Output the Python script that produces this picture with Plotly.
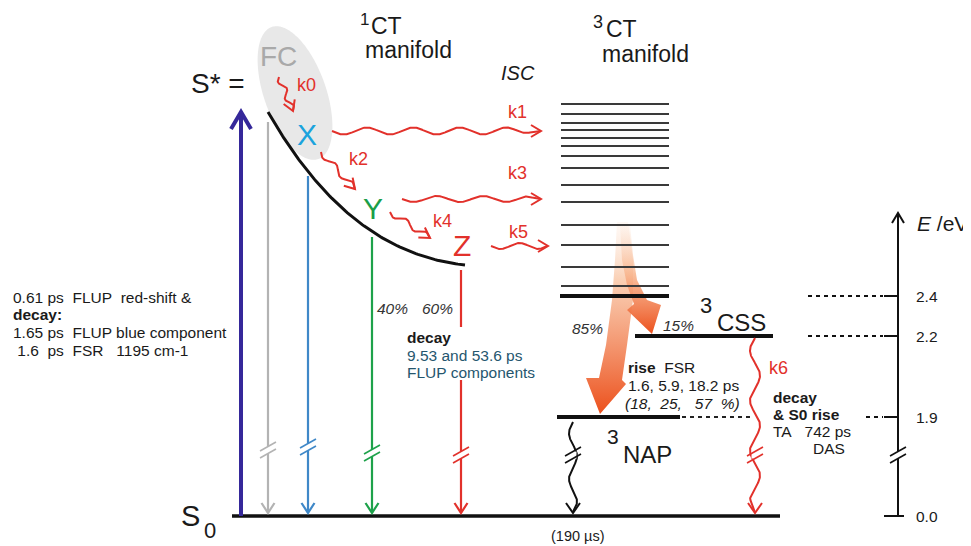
import numpy as np
import plotly.graph_objects as go

# ---------------- data ----------------
energy_ticks = [2.4, 2.2, 1.9, 0.0]            # eV, schematic energy axis
energy_labels = ["2.4", "2.2", "1.9", "0.0"]
energy_px = [296, 336, 417, 516]               # schematic (broken) axis positions
manifold_levels = [104, 114, 123, 130, 138, 146, 156, 168, 185, 202, 225, 245, 267, 286]
state_names = ["X", "Y", "Z"]
state_colors = ["#1ba3dd", "#1a9e48", "#e2312b"]
rate_labels = ["k0", "k1", "k2", "k3", "k4", "k5", "k6"]
branching = {"40%": 0.40, "60%": 0.60, "85%": 0.85, "15%": 0.15}
left_text = ["0.61 ps\u00a0\u00a0FLUP\u00a0\u00a0red-shift &amp;",
             "<b>decay:</b>",
             "1.65 ps\u00a0\u00a0FLUP blue component",
             "\u00a01.6\u00a0\u00a0ps\u00a0\u00a0FSR\u00a0\u00a0\u00a01195 cm-1"]

FONT = "Arial, Liberation Sans, sans-serif"
W, H = 971, 546
PAGE_MARGIN = 8   # default body margin of the html page
fig = go.Figure()


def E(e):
    return float(np.interp(e, sorted(energy_ticks), sorted(energy_px, reverse=True)))


def seg(xs, ys, color, width, dash=None):
    fig.add_trace(go.Scatter(x=list(xs), y=list(ys), mode="lines",
                             line=dict(color=color, width=width, dash=dash),
                             hoverinfo="skip", showlegend=False))


def txt(x, y, s, size, color="#1a1a1a", xa="left", ya="middle"):
    fig.add_annotation(x=x, y=y, text=s, showarrow=False, xanchor=xa, yanchor=ya,
                       font=dict(size=size, color=color, family=FONT),
                       xref="x", yref="y", borderpad=0)


def vee(tx, ty, dx, dy, length, half, color, width):
    n = np.hypot(dx, dy)
    ux, uy = dx / n, dy / n
    px, py = -uy, ux
    bx, by = tx - ux * length, ty - uy * length
    seg([bx + px * half, tx, bx - px * half], [by + py * half, ty, by - py * half], color, width)


def wavy(x0, y0, x1, y1, amp, waves, color, width, hl=10, hw=6, straight=0.12):
    t = np.linspace(0, 1, 300)
    dx, dy = x1 - x0, y1 - y0
    L = np.hypot(dx, dy)
    ux, uy = dx / L, dy / L
    px, py = -uy, ux
    env = np.clip((1 - t) / straight, 0, 1)
    off = amp * np.sin(2 * np.pi * waves * t) * env
    xs = x0 + dx * t + px * off
    ys = y0 + dy * t + py * off
    seg(xs, ys, color, width)
    vee(x1, y1, dx, dy, hl, hw, color, width)


def brk(x, y, color, lw, gap=3.5, half=8, slope=4.5):
    seg([x, x], [y - gap, y + gap], "white", lw + 5)
    for d in (-gap, gap):
        seg([x - half, x + half], [y + d + slope, y + d - slope], color, 1.6)


def bezier(p0, p1, p2, p3, n=120):
    t = np.linspace(0, 1, n)[:, None]
    P = [np.array(p, float) for p in (p0, p1, p2, p3)]
    c = (1 - t) ** 3 * P[0] + 3 * (1 - t) ** 2 * t * P[1] + 3 * (1 - t) * t ** 2 * P[2] + t ** 3 * P[3]
    return c[:, 0], c[:, 1]


# ---------------- FC ellipse ----------------
th = np.linspace(0, 2 * np.pi, 200)
cx, cy, a, b = 295, 93, 70, 31
ang = np.arctan2(0.943, 0.333)
ex = cx + a * np.cos(th) * np.cos(ang) - b * np.sin(th) * np.sin(ang)
ey = cy + a * np.cos(th) * np.sin(ang) + b * np.sin(th) * np.cos(ang)
fig.add_trace(go.Scatter(x=ex, y=ey, fill="toself", fillcolor="#e8e8e8", mode="none",
                         hoverinfo="skip", showlegend=False))

# ---------------- gradient arrows (ISC to triplets) ----------------
big_x = [617, 615, 612, 606, 599, 586, 600, 626, 622, 627, 633, 633, 628]
big_y = [222, 260, 300, 345, 378, 378, 414, 384, 380, 345, 300, 260, 222]
fig.add_trace(go.Scatter(x=big_x, y=big_y, fill="toself", mode="none",
                         fillgradient=dict(type="vertical", start=222, stop=414,
                                           colorscale=[[0, "rgba(253,232,218,0.25)"],
                                                       [0.3, "rgba(249,200,168,0.85)"],
                                                       [1, "rgb(236,80,28)"]]),
                         hoverinfo="skip", showlegend=False))
sm_x = [620, 622, 627, 634, 627, 652, 661, 647, 637, 633, 630]
sm_y = [225, 260, 285, 304, 310, 334, 305, 300, 280, 255, 225]
fig.add_trace(go.Scatter(x=sm_x, y=sm_y, fill="toself", mode="none",
                         fillgradient=dict(type="vertical", start=225, stop=334,
                                           colorscale=[[0, "rgba(253,232,218,0.25)"],
                                                       [0.45, "rgba(248,180,140,0.85)"],
                                                       [1, "rgb(236,80,28)"]]),
                         hoverinfo="skip", showlegend=False))

# ---------------- levels ----------------
y0 = E(0.0)
seg([232, 780], [y0, y0], "#111", 3.5)                       # S0
for yl in manifold_levels:
    seg([561, 669], [yl, yl], "#3a3a3a", 1.8)
seg([560, 669], [E(2.4), E(2.4)], "#111", 4)                 # 3CT lowest
seg([635, 773], [E(2.2), E(2.2)], "#111", 4)                 # 3CSS
seg([557, 680], [E(1.9), E(1.9)], "#111", 4)                 # 3NAP
seg([682, 752], [E(1.9), E(1.9)], "#222", 1.8, dash="4px,4px")

# 1CT relaxation curve
bx_, by_ = bezier((268, 112), (310, 185), (370, 255), (465, 265))
seg(bx_, by_, "#111", 3)

# ---------------- vertical transitions ----------------
seg([241, 241], [y0, 113], "#35289a", 4)
vee(241, 112, 0, -1, 17, 10, "#35289a", 4)

emis = [(268, 122, "#b3b3b3", 450), (308, 176, "#3f88c8", 447),
        (372, 237, "#1ea24b", 453)]
for x, ytop, col, yb in emis:
    seg([x, x], [ytop, y0 - 3], col, 2.2)
    vee(x, y0 - 3, 0, 1, 10, 6.5, col, 2.2)
    brk(x, yb, col, 2.2)
# Z emission (interrupted by text)
seg([461, 461], [270, 327], "#e2312b", 2.2)
seg([461, 461], [380, y0 - 3], "#e2312b", 2.2)
vee(461, y0 - 3, 0, 1, 10, 6.5, "#e2312b", 2.2)
brk(461, 455, "#e2312b", 2.2)

# ---------------- wavy rate arrows ----------------
RED = "#e2312b"
wavy(279, 77, 293, 111, 3, 2, RED, 2)
wavy(321, 152, 355, 189, 3, 2, RED, 2)
wavy(390, 212, 430, 238, 3, 2, RED, 2)
wavy(332, 131, 541, 131, 3.5, 4.5, RED, 2)
wavy(402, 199, 541, 199, 3, 3, RED, 2)
wavy(491, 246, 548, 246, 3, 1.5, RED, 2)
wavy(755, E(2.2) + 2, 755, y0 - 3, 5, 3.5, RED, 2, hl=10, hw=7, straight=0.08)
brk(755, 455, RED, 2)
wavy(573, E(1.9) + 5, 573, y0 - 3, 4, 2, "#111", 2, hl=10, hw=7, straight=0.1)
brk(573, 455, "#111", 2)

# ---------------- energy axis ----------------
AX = 898
seg([AX, AX], [y0, 214], "#111", 2)
vee(AX, 213, 0, -1, 10, 6, "#111", 2)
brk(AX, 455, "#111", 2)
for e, lab in zip(energy_ticks, energy_labels):
    yy = E(e)
    if e == 0.0:
        seg([884, 904], [yy, yy], "#111", 2)
    else:
        seg([884, AX], [yy, yy], "#111", 2)
    txt(927, yy, lab, 15.5, xa="center")
for e, xs in ((2.4, 808), (2.2, 808), (1.9, 866)):
    seg([xs, 883], [E(e), E(e)], "#111", 1.8, dash="4px,4px")
txt(916, 223, "<i>E</i> /eV", 21)

# ---------------- labels ----------------
txt(190, 83, "S* =", 28)
txt(278, 56, "FC", 28, color="#a9a9a9", xa="center")
for name, col, (x, y) in zip(state_names, state_colors, [(307, 134), (373, 208), (462, 245)]):
    txt(x, y, name, 30, color=col, xa="center")
txt(190, 516, "S", 29, xa="center")
txt(210, 530, "0", 22, xa="center")

txt(364, 19, "1", 17, xa="center")
txt(370, 26, "CT", 23)
txt(364, 50, "manifold", 23)
txt(598, 22, "3", 18, xa="center")
txt(605, 29, "CT", 23)
txt(601, 54, "manifold", 23)
txt(518, 73, "<i>ISC</i>", 20, xa="center")

for lab, (x, y) in zip(rate_labels, [(306, 85), (517, 112), (358, 159), (517, 173),
                                     (442, 221), (518, 232), (778, 368)]):
    txt(x, y, lab, 18, color=RED, xa="center")

for lab, (x, y) in zip(branching, [(392, 308), (437, 308), (587, 328), (678, 325)]):
    txt(x, y, "<i>" + lab + "</i>", 15.5, color="#333", xa="center")

txt(706, 305, "3", 22, xa="center")
txt(716, 322, "CSS", 24)
txt(613, 436, "3", 21, xa="center")
txt(622, 454, "NAP", 24)

for i, line in enumerate(left_text):
    txt(12, 297 + i * 17.7, line, 15.5)

txt(406, 337, "<b>decay</b>", 15.5)
txt(406, 355, "9.53 and 53.6 ps", 15.5, color="#25566e")
txt(406, 372, "FLUP components", 15.5, color="#25566e")

txt(627, 367, "<b>rise</b>\u00a0\u00a0FSR", 15.5)
txt(627, 385, "1.6, 5.9, 18.2 ps", 15.5)
txt(624, 403, "<i>(18,\u00a0\u00a025,\u00a0\u00a0\u00a057\u00a0\u00a0%)</i>", 15.5)

txt(772, 397, "<b>decay</b>", 15.5)
txt(772, 414, "<b>&amp; S0 rise</b>", 15.5)
txt(772, 431, "TA\u00a0\u00a0\u00a0742 ps", 15.5)
txt(812, 448, "DAS", 15.5)

txt(577, 536, "(190 \u00b5s)", 14.5, xa="center")

# the page adds an 8 px body margin: shrink the figure and shift the ranges so that
# diagram coordinates coincide with page pixels
fig.update_layout(
    width=W - PAGE_MARGIN, height=H - PAGE_MARGIN, margin=dict(l=0, r=0, t=0, b=0),
    paper_bgcolor="white", plot_bgcolor="white", showlegend=False,
    xaxis=dict(range=[PAGE_MARGIN, W], visible=False, fixedrange=True),
    yaxis=dict(range=[H, PAGE_MARGIN], visible=False, fixedrange=True),
)
fig.write_html("out.html")
